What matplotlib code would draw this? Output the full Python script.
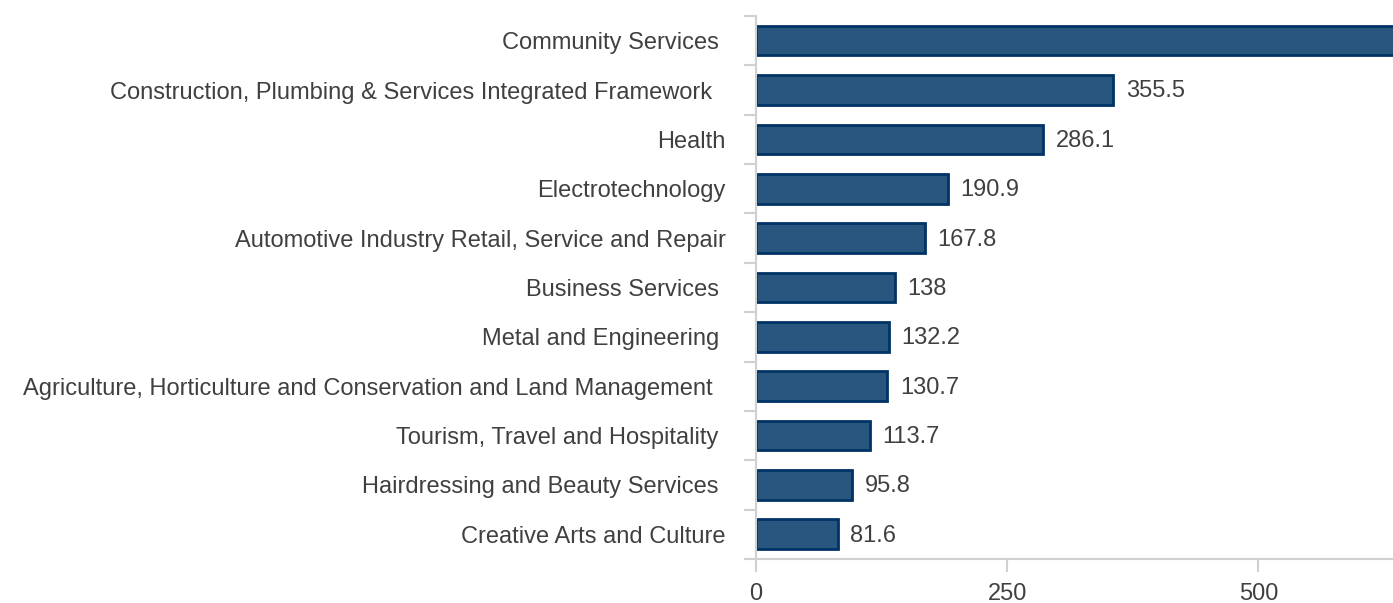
import matplotlib.pyplot as plt
import numpy as np

plt.rcParams['font.family'] = ['Liberation Sans', 'DejaVu Sans']

# categories top to bottom
categories = [
    "Community Services ",
    "Construction, Plumbing & Services Integrated Framework  ",
    "Health",
    "Electrotechnology",
    "Automotive Industry Retail, Service and Repair",
    "Business Services ",
    "Metal and Engineering ",
    "Agriculture, Horticulture and Conservation and Land Management  ",
    "Tourism, Travel and Hospitality ",
    "Hairdressing and Beauty Services ",
    "Creative Arts and Culture",
]
values = [729.0, 355.5, 286.1, 190.9, 167.8, 138, 132.2, 130.7, 113.7, 95.8, 81.6]
value_labels = ["729", "355.5", "286.1", "190.9", "167.8", "138", "132.2", "130.7", "113.7", "95.8", "81.6"]
x_ticks = [0, 250, 500]

text_color = "#404040"
axis_color = "#d0d0d0"

fig = plt.figure(figsize=(13.93, 6.03), dpi=100)
ax = fig.add_axes([0.5427, 0.073, 0.4573, 0.9005])

y = np.arange(len(categories))[::-1]
ax.barh(y, values, height=0.6, color="#29567f", edgecolor="#003366", linewidth=2.0)

for yi, v, lab in zip(y, values, value_labels):
    ax.annotate(lab, (v, yi), xytext=(9, -1), textcoords="offset points",
                va="center", ha="left", fontsize=17, color=text_color,
                annotation_clip=True)

ax.set_xlim(0, 634)
ax.set_ylim(-0.5, len(categories) - 0.5)

ax.set_yticks(y)
ax.set_yticklabels(categories, fontsize=17, color=text_color)
ax.tick_params(axis="y", which="major", length=0, pad=22)
ax.set_yticks(np.arange(len(categories) + 1) - 0.5, minor=True)
ax.tick_params(axis="y", which="minor", length=9, width=1.5, color=axis_color)

ax.set_xticks(x_ticks)
ax.set_xticklabels([str(t) for t in x_ticks], fontsize=17, color=text_color)
ax.tick_params(axis="x", length=9, width=1.5, color=axis_color, pad=8)

for side in ["top", "right"]:
    ax.spines[side].set_visible(False)
for side in ["left", "bottom"]:
    ax.spines[side].set_color(axis_color)
    ax.spines[side].set_linewidth(1.5)

fig.savefig("out.png", dpi=100)
